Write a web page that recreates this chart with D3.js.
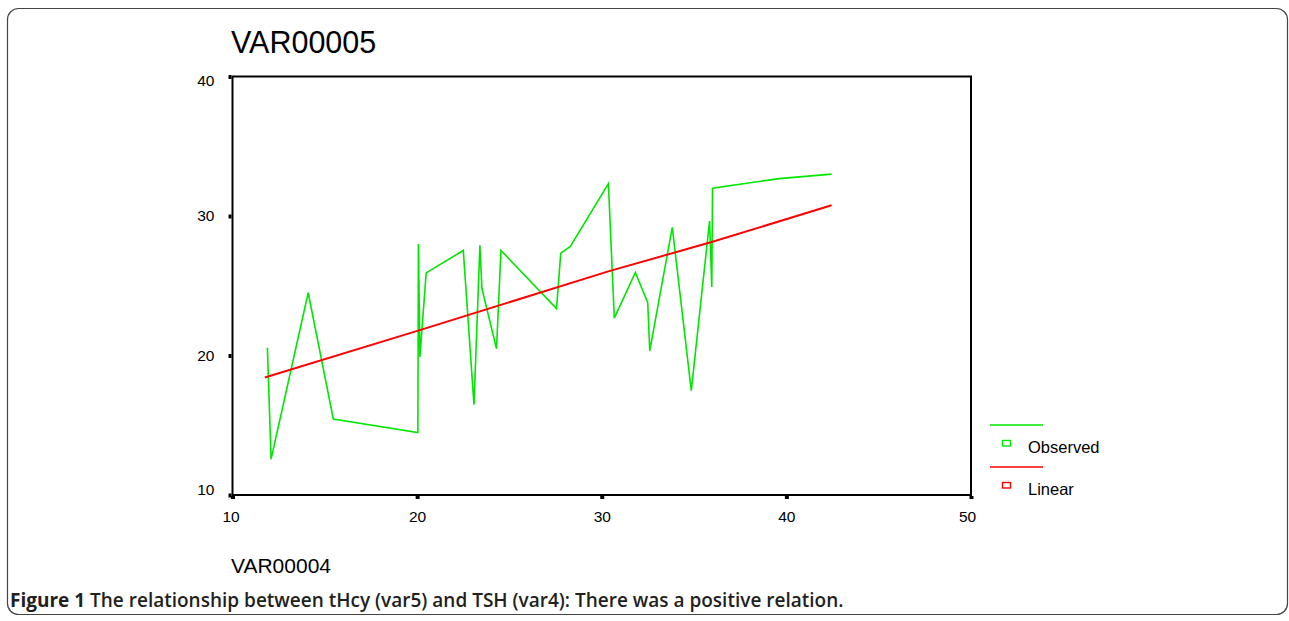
<!DOCTYPE html>
<html><head><meta charset="utf-8">
<script src="https://cdn.jsdelivr.net/npm/d3@7"></script>
<style>html,body{margin:0;padding:0;background:#fff;}svg{display:block;}</style>
</head><body>
<script>
const obsX = [11.89, 12.09, 14.1, 15.46, 20.04, 20.07, 20.15, 20.49, 22.5, 23.08, 23.4, 23.51, 24.3, 24.54, 27.55, 27.78, 28.3, 30.36, 30.68, 31.82, 32.49, 32.6, 33.82, 34.85, 35.84, 35.96, 36.0, 39.6, 42.45];
const obsY = [20.55, 12.57, 24.5, 15.45, 14.48, 28.0, 19.9, 25.92, 27.53, 16.47, 27.9, 24.8, 20.48, 27.53, 23.36, 27.34, 27.82, 32.32, 22.68, 25.95, 23.79, 20.34, 29.19, 17.48, 29.64, 24.91, 31.99, 32.68, 33.0];
const linX = [11.75, 20.1, 30.4, 36.0, 42.45];
const linY = [18.42, 21.8, 26.05, 28.15, 30.77];
const xTicks = [10, 20, 30, 40, 50];
const yTicks = [10, 20, 30, 40];
const legendLabels = ["Observed", "Linear"];
const title = "VAR00005";
const xLabel = "VAR00004";
const caption = "The relationship between tHcy (var5) and TSH (var4): There was a positive relation.";

const W = 1289, H = 621;
const svg = d3.select("body").append("svg").attr("width", W).attr("height", H);

// outer frame
svg.append("rect").attr("x", 7.5).attr("y", 8.5).attr("width", 1280).attr("height", 606)
  .attr("rx", 11).attr("fill", "none").attr("stroke", "#444").attr("stroke-width", 1.2);

const x = d3.scaleLinear().domain([10, 50]).range([232.5, 971]);
const y = d3.scaleLinear().domain([10, 40]).range([495, 76.5]);
const font = "'Liberation Sans', Arial, sans-serif";

// title
svg.append("text").attr("x", 231).attr("y", 53).text(title)
  .attr("font-family", font).attr("font-size", 30.5).attr("fill", "#000");

// plot frame
svg.append("rect").attr("x", x(10)).attr("y", y(40)).attr("width", x(50) - x(10)).attr("height", y(10) - y(40))
  .attr("fill", "none").attr("stroke", "#000").attr("stroke-width", 2);

// axes
const xAxis = d3.axisBottom(x).tickValues(xTicks).tickSize(4).tickPadding(12).tickFormat(d3.format("d"));
const gx = svg.append("g").attr("transform", `translate(0,${y(10)})`).call(xAxis);
gx.select(".domain").remove();
gx.selectAll(".tick line").attr("stroke", "#000").attr("stroke-width", 4).attr("y1", 1);
gx.selectAll(".tick text").attr("font-family", font).attr("font-size", 15.5).attr("fill", "#000")
  .attr("dx", (d) => d === 50 ? -4 : d === 10 ? -2 : 0);

const yAxis = d3.axisLeft(y).tickValues(yTicks).tickSize(4).tickPadding(14).tickFormat(d3.format("d"));
const gy = svg.append("g").attr("transform", `translate(${x(10)},0)`).call(yAxis);
gy.select(".domain").remove();
gy.selectAll(".tick line").attr("stroke", "#000").attr("stroke-width", 4).attr("x1", -1);
gy.selectAll(".tick text").attr("font-family", font).attr("font-size", 15.5).attr("fill", "#000")
  .attr("dy", (d) => d === 40 ? "0.6em" : d === 10 ? "-0.05em" : "0.32em");

// x label
svg.append("text").attr("x", 231).attr("y", 573).text(xLabel)
  .attr("font-family", font).attr("font-size", 21).attr("fill", "#000");

// lines
const line = d3.line().x(d => x(d[0])).y(d => y(d[1]));
svg.append("path").datum(obsX.map((v, i) => [v, obsY[i]])).attr("d", line)
  .attr("fill", "none").attr("stroke", "#00e600").attr("stroke-width", 1.6).attr("stroke-linejoin", "miter");
svg.append("path").datum(linX.map((v, i) => [v, linY[i]])).attr("d", line)
  .attr("fill", "none").attr("stroke", "#ff0000").attr("stroke-width", 2);

// legend
const legColors = ["#00e600", "#ff0000"];
legendLabels.forEach((lab, i) => {
  const oy = 425 + i * 42;
  svg.append("line").attr("x1", 990).attr("x2", 1043).attr("y1", oy).attr("y2", oy)
    .attr("stroke", legColors[i]).attr("stroke-width", 1.6);
  svg.append("rect").attr("x", 1002.5).attr("y", oy + 15.5).attr("width", 8).attr("height", 5.5)
    .attr("fill", "none").attr("stroke", legColors[i]).attr("stroke-width", 1.4);
  svg.append("text").attr("x", 1028).attr("y", oy + 28).text(lab)
    .attr("font-family", font).attr("font-size", 16.5).attr("fill", "#000");
});

// caption
const cap = svg.append("text").attr("x", 10).attr("y", 607)
  .attr("font-family", "'Open Sans', 'Noto Sans', sans-serif").attr("font-size", 19).attr("font-weight", 700).attr("fill", "#231f20");
cap.append("tspan").text("Figure 1 ");
cap.append("tspan").text(caption).attr("font-weight", 600);
</script>
</body></html>
